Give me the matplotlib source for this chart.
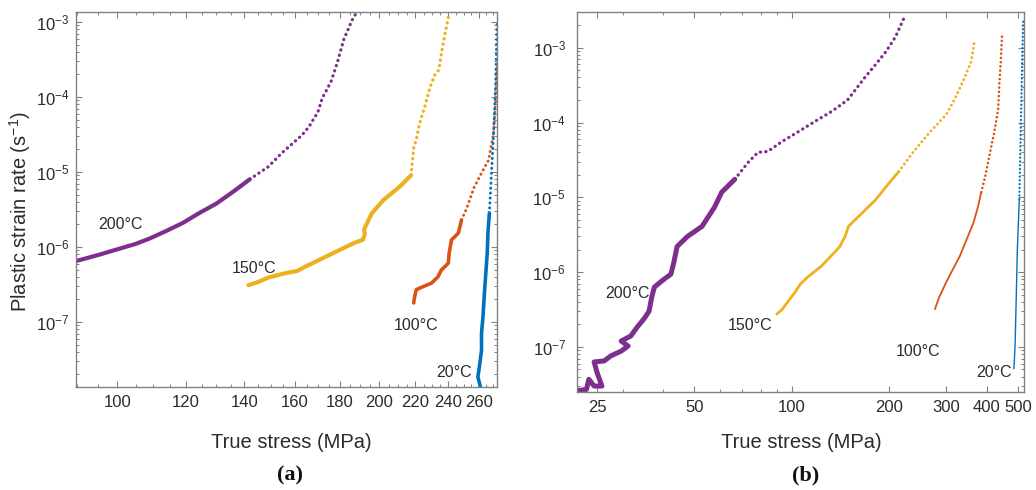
import numpy as np
import matplotlib
matplotlib.use('Agg')
import matplotlib.pyplot as plt
from matplotlib.ticker import LogLocator, NullFormatter

# ---- panel (a) data: true stress (MPa) vs plastic strain rate (1/s) ----
a200_s = [89.7, 95, 100, 105, 109, 114, 119, 124, 130, 136, 142, 149, 155, 163, 166, 170,
          172, 176, 179, 182, 186, 188]
a200_r = [6.5e-7, 7.8e-7, 9.3e-7, 1.1e-6, 1.3e-6, 1.65e-6, 2.1e-6, 2.8e-6, 3.8e-6, 5.5e-6,
          8.0e-6, 1.17e-5, 1.85e-5, 3.1e-5, 4.0e-5, 6.3e-5, 9.7e-5, 1.6e-4, 2.9e-4, 5.8e-4,
          1.05e-3, 1.3e-3]
a150_s = [141.5, 145, 149, 155, 161, 164, 170, 177, 182, 187, 191.5, 192.5, 192, 196, 202,
          207, 212, 217.5, 219, 220.5, 222.5, 225.5, 228.5, 231.5, 234, 236, 238, 240.5]
a150_r = [3.1e-7, 3.4e-7, 3.9e-7, 4.4e-7, 4.8e-7, 5.4e-7, 6.6e-7, 8.3e-7, 9.7e-7, 1.13e-6,
          1.25e-6, 1.5e-6, 1.7e-6, 2.8e-6, 4.2e-6, 5.3e-6, 6.7e-6, 9.1e-6, 2.1e-5, 2.7e-5,
          4.5e-5, 7.4e-5, 1.32e-4, 1.96e-4, 2.3e-4, 4.2e-4, 7.1e-4, 1.3e-3]
a100_s = [219, 219.5, 220.5, 223.5, 229.5, 233.5, 235.5, 240, 240.5, 242, 246.5, 248.5, 252,
          257, 262, 267, 270.5, 272, 273]
a100_r = [1.8e-7, 2.15e-7, 2.7e-7, 2.9e-7, 3.3e-7, 4.0e-7, 4.9e-7, 6.1e-7, 8.3e-7, 1.24e-6,
          1.54e-6, 2.3e-6, 3.3e-6, 6.3e-6, 9.7e-6, 1.45e-5, 3.3e-5, 9.1e-5, 2.5e-4]
a20_s = [261.5, 259.5, 260.5, 262, 262, 263, 264, 265, 266, 266.5, 267.5, 269, 270.5, 272, 273]
a20_r = [1.3e-8, 1.85e-8, 2.5e-8, 4.2e-8, 7.1e-8, 1.17e-7, 2.4e-7, 4.5e-7, 8.3e-7, 1.54e-6,
         2.84e-6, 9.7e-6, 3.3e-5, 1.54e-4, 1.0e-3]

# ---- panel (b) data ----
b200_s = [21.5, 23.2, 23.6, 24.5, 25.9, 25.0, 24.5, 26.3, 27.6, 29.7, 31.2, 29.7, 31.8, 33.3,
          35.0, 36.2, 36.9, 37.6, 39.6, 42.3, 43.2, 44.2, 47.6, 52.8, 57.7, 60.7, 66.6, 73.1,
          78.6, 84.2, 93.4, 104, 117.6, 132.5, 148.6, 168, 181, 195, 209, 222]
b200_r = [2.6e-8, 2.7e-8, 3.7e-8, 3.0e-8, 3.0e-8, 4.6e-8, 6.3e-8, 6.5e-8, 7.6e-8, 8.8e-8,
          1.03e-7, 1.2e-7, 1.4e-7, 1.85e-7, 2.4e-7, 3.0e-7, 4.6e-7, 6.3e-7, 7.6e-7, 9.4e-7,
          1.36e-6, 2.2e-6, 3.0e-6, 4.1e-6, 7.4e-6, 1.17e-5, 1.74e-5, 2.9e-5, 4.0e-5, 4.1e-5,
          5.6e-5, 7.4e-5, 1.03e-4, 1.4e-4, 2.0e-4, 4.0e-4, 5.9e-4, 8.8e-4, 1.4e-3, 2.5e-3]
b150_s = [89.9, 93.4, 97.5, 102.3, 106.2, 111.9, 123.3, 135.6, 140.6, 146, 149.6, 165.6,
          181.9, 198, 213.7, 236.6, 266.6, 300, 320, 339, 358, 364, 367]
b150_r = [2.75e-7, 3.2e-7, 4.1e-7, 5.4e-7, 6.9e-7, 8.6e-7, 1.2e-6, 1.85e-6, 2.2e-6, 3.0e-6,
          4.1e-6, 6.3e-6, 9.4e-6, 1.49e-5, 2.2e-5, 4.0e-5, 7.4e-5, 1.28e-4, 2.15e-4, 3.7e-4,
          6.5e-4, 1.03e-3, 1.28e-3]
b100_s = [276.5, 285, 300, 314.5, 330, 346.7, 364, 376, 384.5, 395.4, 406.7, 421.7, 433.5,
          437.5, 442, 446]
b100_r = [3.2e-7, 4.6e-7, 7.4e-7, 1.1e-6, 1.63e-6, 2.75e-6, 4.6e-6, 7.6e-6, 1.17e-5, 1.9e-5,
          3.5e-5, 7.4e-5, 1.49e-4, 3.4e-4, 6.9e-4, 1.58e-3]
b20_s = [485, 489, 493, 497, 504, 509, 514, 518]
b20_r = [5.1e-8, 1.03e-7, 4.4e-7, 2.0e-6, 9.4e-6, 7.4e-5, 5.6e-4, 2.4e-3]

temps = ['20°C', '100°C', '150°C', '200°C']
colors = {'20°C': '#0072BD', '100°C': '#D95319', '150°C': '#EDB120', '200°C': '#7E2F8E'}

a_xticks = [100, 120, 140, 160, 180, 200, 220, 240, 260]
a_xminor = list(range(90, 275, 5))
b_xticks = [25, 50, 100, 200, 300, 400, 500]
b_xminor = [30, 40, 60, 70, 80, 90]
yticks = [1e-7, 1e-6, 1e-5, 1e-4, 1e-3]
ylabels = [r'$10^{-7}$', r'$10^{-6}$', r'$10^{-5}$', r'$10^{-4}$', r'$10^{-3}$']

FONT = 'Liberation Sans'
plt.rcParams['font.family'] = [FONT, 'DejaVu Sans']
plt.rcParams['mathtext.fontset'] = 'custom'
plt.rcParams['mathtext.rm'] = FONT
plt.rcParams['mathtext.default'] = 'regular'

TXT = '#2b2b2b'
FRAME = '#808080'


def draw_curve(ax, s, r, color, lw_solid, lw_dot, split):
    s = np.asarray(s)
    r = np.asarray(r)
    above = np.nonzero(r > split)[0]
    i = above[0] if len(above) else len(r)
    ax.plot(s[:i], r[:i], color=color, lw=lw_solid,
            solid_capstyle='round', solid_joinstyle='round')
    if i < len(r):
        ax.plot(s[i - 1:], r[i - 1:], color=color, lw=lw_dot,
                linestyle=(0, (0.1, 1.6)), dash_capstyle='round')


def style_axes(ax, pad):
    for sp in ax.spines.values():
        sp.set_color(FRAME)
        sp.set_linewidth(1.0)
    ax.tick_params(which='both', direction='in', top=True, right=True, color=FRAME,
                   labelcolor=TXT, labelsize=12)
    ax.tick_params(which='major', length=4, width=0.8)
    ax.tick_params(which='minor', length=2.5, width=0.7)
    ax.tick_params(axis='y', pad=pad)
    ax.tick_params(axis='x', pad=6)
    ax.set_yticks(yticks, ylabels)
    ax.yaxis.set_minor_locator(LogLocator(base=10, subs=np.arange(2, 10)))
    ax.yaxis.set_minor_formatter(NullFormatter())


fig = plt.figure(figsize=(10.36, 4.9), dpi=100)

# panel (a)
ax1 = fig.add_axes([0.0734, 0.2102, 0.4064, 0.7653])
ax1.set_xscale('log')
ax1.set_yscale('log')
draw_curve(ax1, a200_s, a200_r, colors['200°C'], 3.0, 2.3, 8.5e-6)
draw_curve(ax1, a150_s, a150_r, colors['150°C'], 3.0, 2.3, 9.5e-6)
draw_curve(ax1, a100_s, a100_r, colors['100°C'], 2.6, 2.1, 2.8e-6)
draw_curve(ax1, a20_s, a20_r, colors['20°C'], 2.6, 2.1, 3.0e-6)
ax1.set_xlim(89.7, 273)
ax1.set_ylim(1.36e-8, 1.36e-3)
style_axes(ax1, 5)
ax1.set_xticks(a_xticks, [str(t) for t in a_xticks])
ax1.set_xticks(a_xminor, minor=True)
ax1.xaxis.set_minor_formatter(NullFormatter())
for t, x, y in zip(temps, [243.5, 220.5, 143.5, 101], [2.15e-8, 9.1e-8, 5.2e-7, 2.0e-6]):
    ax1.text(x, y, t, ha='center', va='center', fontsize=11.5, color=TXT)

# panel (b)
ax2 = fig.add_axes([0.557, 0.2, 0.4314, 0.7755])
ax2.set_xscale('log')
ax2.set_yscale('log')
draw_curve(ax2, b200_s, b200_r, colors['200°C'], 3.6, 2.3, 2.0e-5)
draw_curve(ax2, b150_s, b150_r, colors['150°C'], 2.0, 2.0, 2.2e-5)
draw_curve(ax2, b100_s, b100_r, colors['100°C'], 1.3, 1.8, 1.2e-5)
draw_curve(ax2, b20_s, b20_r, colors['20°C'], 1.0, 1.6, 1.0e-5)
ax2.set_xlim(21.7, 521)
ax2.set_ylim(2.5e-8, 3.0e-3)
style_axes(ax2, 8)
ax2.set_xticks(b_xticks, [str(t) for t in b_xticks])
ax2.set_xticks(b_xminor, minor=True)
ax2.xaxis.set_minor_formatter(NullFormatter())
for t, x, y in zip(temps, [420, 245, 74.3, 31], [4.6e-8, 8.8e-8, 1.96e-7, 5.2e-7]):
    ax2.text(x, y, t, ha='center', va='center', fontsize=11.5, color=TXT)

W, H = 1036, 490
fig.text(291 / W, 1 - 442 / H, 'True stress (MPa)', ha='center', va='center',
         fontsize=14.5, color=TXT)
fig.text(801 / W, 1 - 442 / H, 'True stress (MPa)', ha='center', va='center',
         fontsize=14.5, color=TXT)
fig.text(20 / W, 1 - 212 / H, r'Plastic strain rate (s$^{-1}$)', ha='center', va='center',
         rotation=90, fontsize=14.5, color=TXT)
fig.text(290 / W, 1 - 475 / H, '(a)', ha='center', va='center', fontsize=16,
         fontweight='bold', family='Liberation Serif', color='#111111')
fig.text(806 / W, 1 - 475 / H, '(b)', ha='center', va='center', fontsize=16,
         fontweight='bold', family='Liberation Serif', color='#111111')

fig.savefig('out.png', dpi=100)
